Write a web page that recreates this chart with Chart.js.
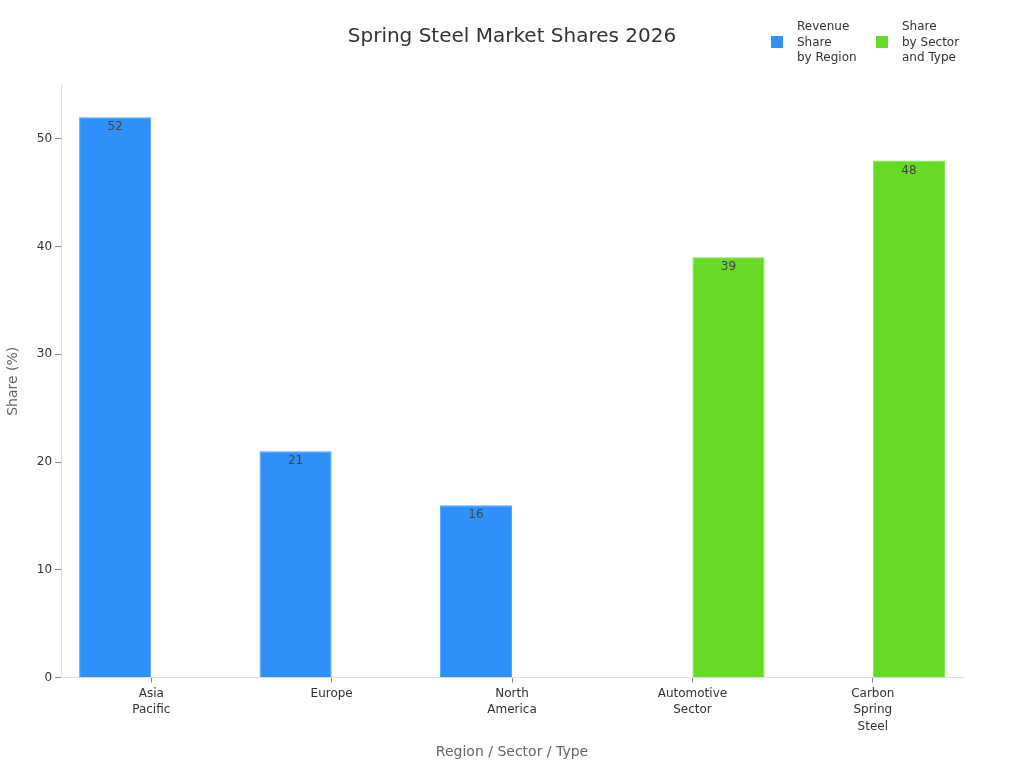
<!DOCTYPE html>
<html>
<head>
<meta charset="utf-8">
<script src="https://cdn.jsdelivr.net/npm/chart.js@4/dist/chart.umd.min.js"></script>
<style>
    body { margin: 0; background: #fff; }
    #chart { display: block; }
</style>
</head>
<body>
<canvas id="chart" width="1024" height="768"></canvas>
<script>
// Chart data
const categories = [
    ['Asia', 'Pacific'],
    ['Europe'],
    ['North', 'America'],
    ['Automotive', 'Sector'],
    ['Carbon', 'Spring', 'Steel']
];
const regionShare = [52, 21, 16, null, null];
const sectorShare = [null, null, null, 39, 48];
const seriesNames = [
    ['Revenue', 'Share', 'by Region'],
    ['Share', 'by Sector', 'and Type']
];
const yTicks = [0, 10, 20, 30, 40, 50];
const chartTitle = 'Spring Steel Market Shares 2026';

const FONT = "'DejaVu Sans', sans-serif";
const BLUE = '#2e90f8';
const GREEN = '#66da26';

// Value labels inside the top of each bar
const barLabels = {
    id: 'barLabels',
    afterDatasetsDraw(chart) {
        const ctx = chart.ctx;
        ctx.save();
        ctx.font = `12px ${FONT}`;
        ctx.fillStyle = '#444';
        ctx.textAlign = 'center';
        ctx.textBaseline = 'middle';
        chart.data.datasets.forEach((ds, i) => {
            chart.getDatasetMeta(i).data.forEach((bar, j) => {
                if (ds.data[j] == null) return;
                ctx.fillText(ds.data[j], bar.x, bar.y + 10);
            });
        });
        ctx.restore();
    }
};

// Title centred on the page, legend in the top right corner
const header = {
    id: 'header',
    afterDraw(chart) {
        const ctx = chart.ctx;
        ctx.save();
        ctx.font = `20px ${FONT}`;
        ctx.fillStyle = '#333';
        ctx.textAlign = 'center';
        ctx.textBaseline = 'middle';
        ctx.fillText(chartTitle, chart.width / 2, 37);

        const colors = [BLUE, GREEN];
        const starts = [771, 876];
        ctx.font = `12px ${FONT}`;
        ctx.textAlign = 'left';
        seriesNames.forEach((lines, i) => {
            ctx.fillStyle = colors[i];
            ctx.fillRect(starts[i], 36, 12, 12);
            ctx.fillStyle = '#333';
            lines.forEach((line, k) => {
                ctx.fillText(line, starts[i] + 26, 27 + k * 15.5);
            });
        });
        ctx.restore();
    }
};

new Chart(document.getElementById('chart'), {
    type: 'bar',
    data: {
        labels: categories,
        datasets: [
            {
                label: seriesNames[0].join(' '),
                data: regionShare,
                backgroundColor: BLUE,
                borderColor: '#4f9ff9',
                borderWidth: 1,
                barPercentage: 1.0,
                categoryPercentage: 0.8
            },
            {
                label: seriesNames[1].join(' '),
                data: sectorShare,
                backgroundColor: GREEN,
                borderColor: '#7ddf47',
                borderWidth: 1,
                barPercentage: 1.0,
                categoryPercentage: 0.8
            }
        ]
    },
    options: {
        responsive: false,
        animation: false,
        layout: {
            padding: { left: 3, right: 61, top: 85, bottom: 3 }
        },
        plugins: {
            legend: { display: false },
            tooltip: { enabled: false },
            title: { display: false }
        },
        scales: {
            x: {
                grid: {
                    offset: false,
                    drawOnChartArea: false,
                    drawTicks: true,
                    tickLength: 5,
                    color: '#888'
                },
                border: { color: '#ddd' },
                ticks: {
                    color: '#333',
                    font: { family: FONT, size: 12, lineHeight: 1.38 },
                    padding: 3,
                    maxRotation: 0
                },
                title: {
                    display: true,
                    text: 'Region / Sector / Type',
                    color: '#666',
                    font: { family: FONT, size: 14 },
                    padding: { top: 6 }
                }
            },
            y: {
                min: 0,
                max: 55,
                afterBuildTicks: (axis) => {
                    axis.ticks = yTicks.map(v => ({ value: v }));
                },
                grid: {
                    drawOnChartArea: false,
                    drawTicks: true,
                    tickLength: 6,
                    color: '#888'
                },
                border: { color: '#ddd' },
                ticks: {
                    color: '#333',
                    font: { family: FONT, size: 12 },
                    padding: 3
                },
                title: {
                    display: true,
                    text: 'Share (%)',
                    color: '#666',
                    font: { family: FONT, size: 14 },
                    padding: { top: 2, bottom: 12 }
                }
            }
        }
    },
    plugins: [barLabels, header]
});
</script>
</body>
</html>
